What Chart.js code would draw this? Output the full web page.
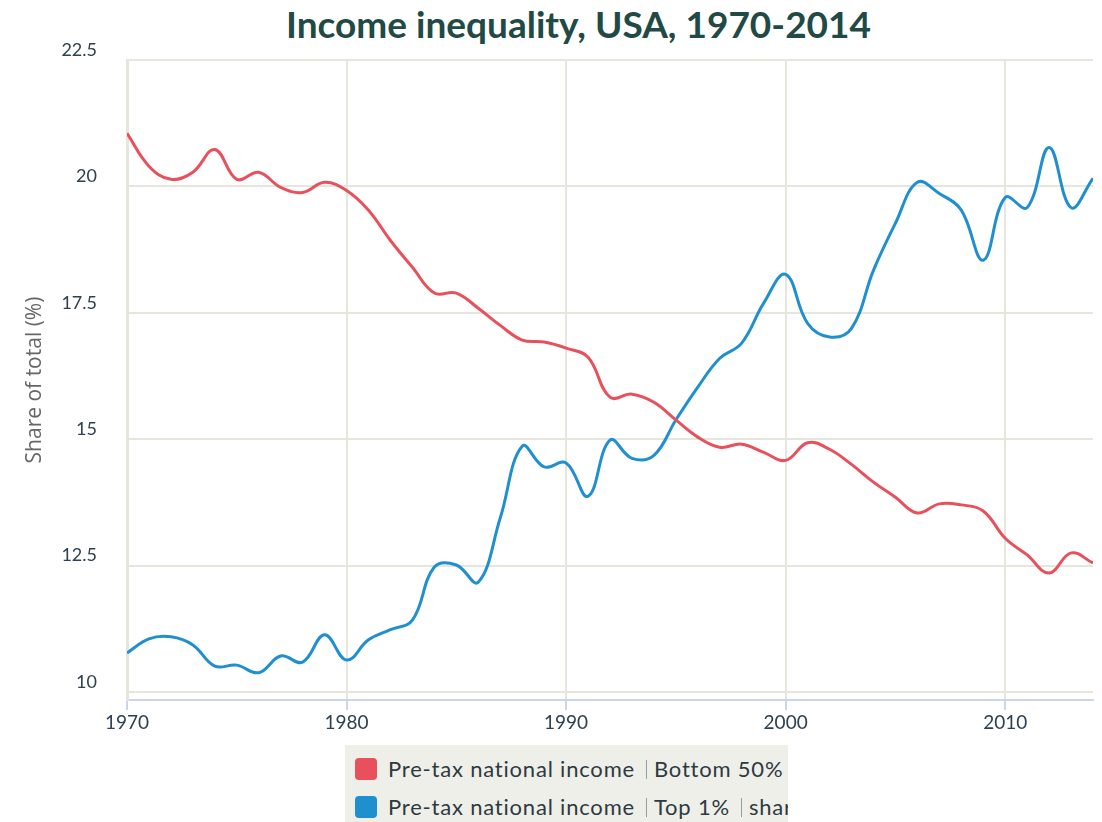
<!DOCTYPE html>
<html>
<head>
<meta charset="utf-8">
<script src="https://cdn.jsdelivr.net/npm/chart.js@4"></script>
<style>
  html, body { margin: 0; padding: 0; background: #fff; }
  #wrap { position: relative; width: 1102px; height: 822px; overflow: hidden; font-family: Lato, sans-serif; }
  #titre { position: absolute; left: 0; width: 1157px; top: 1px; text-align: center; font-size: 37px; font-weight: bold; color: #1f4a45; }
  #zone { position: absolute; left: 0; top: 0; width: 1102px; height: 742px; }
  #legende { position: absolute; left: 345px; top: 745px; width: 443px; height: 90px; background: #efefea; overflow: hidden; }
  .item { position: absolute; left: 10px; white-space: nowrap; font-size: 22px; letter-spacing: 0.8px; color: #2d3a3f; }
  .carre { display: inline-block; width: 22px; height: 22px; border-radius: 4px; vertical-align: -3px; margin-right: 11px; }
  .sep { display: inline-block; width: 1px; height: 19px; background: #9aa0a0; vertical-align: -2px; margin: 0 7px 0 11px; }
</style>
</head>
<body>
<div id="wrap">
  <div id="titre">Income inequality, USA, 1970-2014</div>
  <div id="zone"><canvas id="grafico"></canvas></div>
  <div id="legende"></div>
</div>
<script>
// Anos e séries
const anos = [1970, 1971, 1972, 1973, 1974, 1975, 1976, 1977, 1978, 1979,
              1980, 1981, 1982, 1983, 1984, 1985, 1986, 1987, 1988, 1989,
              1990, 1991, 1992, 1993, 1994, 1995, 1996, 1997, 1998, 1999,
              2000, 2001, 2002, 2003, 2004, 2005, 2006, 2007, 2008, 2009,
              2010, 2011, 2012, 2013, 2014];
const metadeInferior = [21.05, 20.40, 20.14, 20.28, 20.73, 20.14, 20.28, 19.98, 19.88, 20.08,
                        19.92, 19.53, 18.93, 18.40, 17.89, 17.89, 17.59, 17.25, 16.96, 16.92,
                        16.80, 16.62, 15.83, 15.89, 15.73, 15.38, 15.04, 14.84, 14.90, 14.74,
                        14.58, 14.93, 14.80, 14.50, 14.15, 13.85, 13.54, 13.72, 13.70, 13.58,
                        13.04, 12.71, 12.35, 12.75, 12.55];
const topoUm = [10.77, 11.05, 11.09, 10.93, 10.51, 10.53, 10.38, 10.71, 10.59, 11.13,
                10.63, 11.03, 11.23, 11.42, 12.47, 12.51, 12.17, 13.44, 14.86, 14.45,
                14.53, 13.87, 14.98, 14.62, 14.68, 15.38, 16.03, 16.60, 16.90, 17.69,
                18.26, 17.29, 17.02, 17.19, 18.34, 19.27, 20.08, 19.86, 19.53, 18.54,
                19.78, 19.58, 20.77, 19.58, 20.16];
const ticksY = [10, 12.5, 15, 17.5, 20, 22.5];
const ticksX = [1970, 1980, 1990, 2000, 2010];

const rotulos = ['Pre-tax national income|Bottom 50%|share', 'Pre-tax national income|Top 1%|share'];
const cores = ['#e8505b', '#1f8fd0'];

function pontos(valores) {
    return anos.map((ano, i) => ({ x: ano, y: valores[i] }));
}

const ctx = document.getElementById('grafico').getContext('2d');
const grafico = new Chart(ctx, {
    type: 'line',
    data: {
        datasets: [
            { label: rotulos[0], data: pontos(metadeInferior), borderColor: cores[0], backgroundColor: cores[0] },
            { label: rotulos[1], data: pontos(topoUm), borderColor: cores[1], backgroundColor: cores[1] }
        ]
    },
    options: {
        responsive: true,
        maintainAspectRatio: false,
        animation: false,
        layout: { padding: { top: 60, right: 9, left: 0, bottom: 0 } },
        elements: {
            line: { tension: 0.4, borderWidth: 3 },
            point: { radius: 0 }
        },
        scales: {
            x: {
                type: 'linear',
                min: 1970,
                max: 2014,
                afterBuildTicks: axis => { axis.ticks = ticksX.map(v => ({ value: v })); },
                afterFit: axis => { axis.height = 42; },
                grid: { color: '#e6e6dc', lineWidth: 2, tickColor: '#ccd6eb', tickLength: 10 },
                border: { color: '#ccd6eb', width: 2 },
                ticks: { color: '#2d4150', font: { family: 'Lato', size: 19 }, padding: 1, callback: v => String(v) }
            },
            y: {
                min: 9.84,
                max: 22.5,
                afterBuildTicks: axis => { axis.ticks = ticksY.map(v => ({ value: v })); },
                afterFit: axis => { axis.width = 127; },
                grid: { color: '#e6e6dc', lineWidth: 2, drawTicks: false },
                border: { color: '#e6e6dc', width: 3 },
                ticks: { color: '#2d4150', font: { family: 'Lato', size: 18 }, padding: 30, labelOffset: -10 },
                title: { display: true, text: 'Share of total (%)', color: '#666', font: { family: 'Open Sans', size: 21 }, padding: { top: 22, bottom: 0 } }
            }
        },
        plugins: {
            legend: { display: false },
            tooltip: { enabled: false }
        }
    }
});

// Legenda em HTML (recortada como no original)
const legenda = document.getElementById('legende');
grafico.data.datasets.forEach((ds, i) => {
    const item = document.createElement('div');
    item.className = 'item';
    item.style.top = (i === 0 ? 10 : 48) + 'px';
    const partes = ds.label.split('|');
    let html = `<span class="carre" style="background:${ds.borderColor}"></span>`;
    partes.forEach((p, j) => {
        if (j > 0) html += '<span class="sep"></span>';
        html += `<span>${p}</span>`;
    });
    item.innerHTML = html;
    legenda.appendChild(item);
});
</script>
</body>
</html>
